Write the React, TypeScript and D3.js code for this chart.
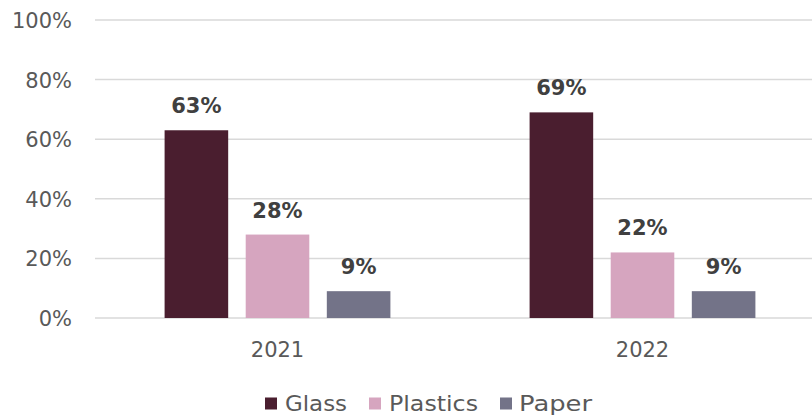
import React from "react";
import * as d3 from "d3";

const years = ["2021", "2022"];
const seriesNames = ["Glass", "Plastics", "Paper"];
const glassValues = [63, 69];
const plasticsValues = [28, 22];
const paperValues = [9, 9];
const yTicks = [0, 20, 40, 60, 80, 100];
const colors = ["#4a1e2f", "#d6a5bf", "#737388"];

const W = 812;
const H = 418;
const FONT = "'DejaVu Sans', sans-serif";

export default function App() {
  const seriesValues = [glassValues, plasticsValues, paperValues];
  const y = d3.scaleLinear().domain([0, 100]).range([318, 20]);
  const x0 = d3.scaleBand<string>().domain(years).range([95, 825]);
  const x1 = d3
    .scaleBand<string>()
    .domain(seriesNames)
    .range([0, x0.bandwidth()])
    .paddingInner(0.216)
    .paddingOuter(0.858);

  const legendItems = [
    { name: "Glass", sx: 265, tx: 285, w: 62 },
    { name: "Plastics", sx: 369, tx: 389, w: 89 },
    { name: "Paper", sx: 500, tx: 519, w: 73 },
  ];

  return (
    <svg
      width={W}
      height={H}
      style={{ position: "absolute", left: 0, top: 0, background: "#fff" }}
      fontFamily={FONT}
    >
      {yTicks.map((t) => (
        <g key={t}>
          <line x1={95} x2={825} y1={y(t)} y2={y(t)} stroke="#d9d9d9" strokeWidth={1.5} />
          <text x={72} y={y(t) + 8} textAnchor="end" fontSize={21} fill="#595959">
            {t}%
          </text>
        </g>
      ))}
      {years.map((yr, i) => (
        <g key={yr}>
          {seriesNames.map((s, j) => {
            const v = seriesValues[j][i];
            const bx = (x0(yr) as number) + (x1(s) as number);
            return (
              <g key={s}>
                <rect
                  x={bx}
                  y={y(v)}
                  width={x1.bandwidth()}
                  height={y(0) - y(v)}
                  fill={colors[j]}
                />
                <text
                  x={bx + x1.bandwidth() / 2}
                  y={y(v) - 17}
                  textAnchor="middle"
                  fontSize={21}
                  fontWeight="bold"
                  fill="#404040"
                >
                  {v}%
                </text>
              </g>
            );
          })}
          <text
            x={(x0(yr) as number) + x0.bandwidth() / 2}
            y={357}
            textAnchor="middle"
            fontSize={21}
            fill="#595959"
          >
            {yr}
          </text>
        </g>
      ))}
      {legendItems.map((it, j) => (
        <g key={it.name}>
          <rect x={it.sx} y={397.5} width={12} height={12} fill={colors[j]} />
          <text
            x={it.tx}
            y={411}
            fontSize={21}
            fill="#595959"
            textLength={it.w}
            lengthAdjust="spacingAndGlyphs"
          >
            {seriesNames[j]}
          </text>
        </g>
      ))}
    </svg>
  );
}
